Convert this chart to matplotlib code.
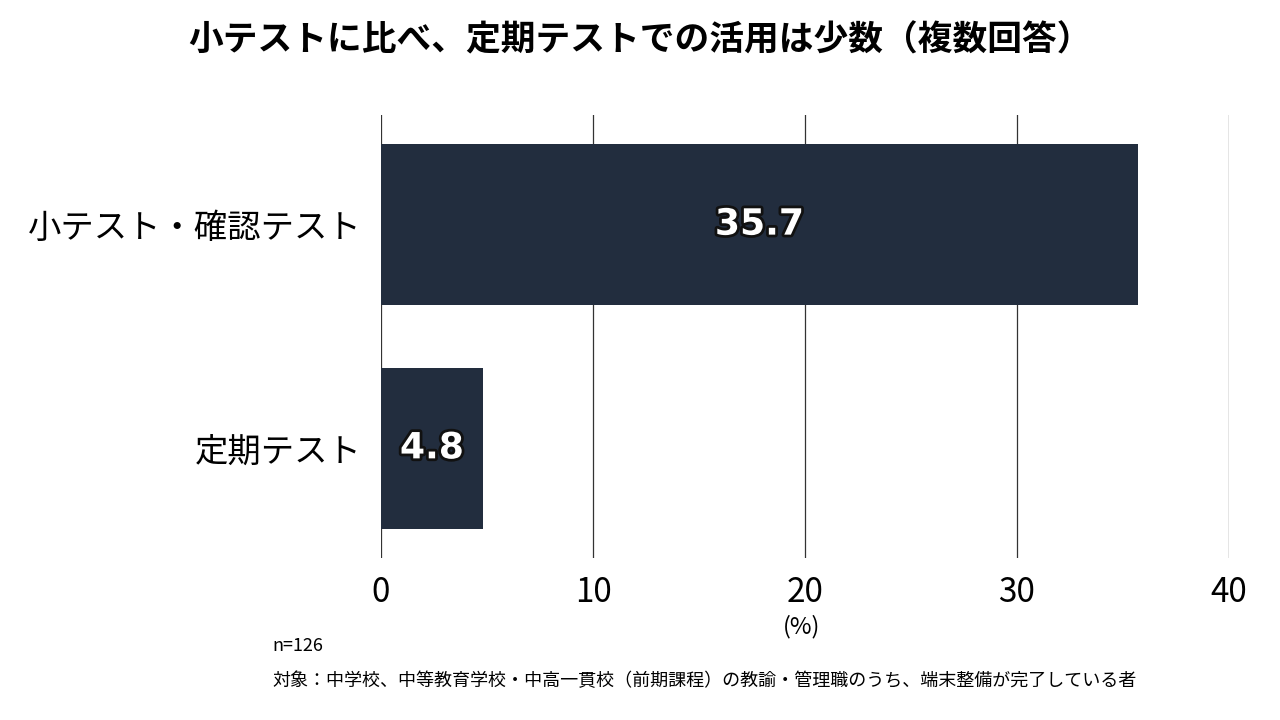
import matplotlib
matplotlib.use("Agg")
import matplotlib.pyplot as plt
import matplotlib.patheffects as pe

categories = ["小テスト・確認テスト", "定期テスト"]
values = [35.7, 4.8]
xticks = [0, 10, 20, 30, 40]

plt.rcParams["font.family"] = "Noto Sans CJK JP"
fig = plt.figure(figsize=(12.8, 7.2), dpi=100)
ax = fig.add_axes([381/1280, 1-558/720, 848/1280, 443/720])
ypos = list(range(len(categories)))
ax.barh(ypos, values, height=0.72, color="#222d3e", zorder=3)
ax.set_xlim(0, 40)
ax.set_ylim(1.49, -0.49)
ax.set_xticks(xticks)
ax.set_xticklabels([str(t) for t in xticks], fontsize=24)
ax.set_yticks(ypos)
ax.set_yticklabels(categories, fontsize=24)
ax.tick_params(length=0, pad=12)
ax.tick_params(axis="y", pad=14)
for s in ax.spines.values():
    s.set_visible(False)
for t in xticks:
    ax.axvline(t, color="#333333", lw=0.9, zorder=1)
for y, v in zip(ypos, values):
    ax.text(v/2, y, f"{v}", ha="center", va="center", fontsize=26, fontweight="bold",
            color="white", family="DejaVu Sans", zorder=4,
            path_effects=[pe.withStroke(linewidth=4, foreground="#111111")])
fig.text(802/1280, 1-627/720, "(%)", ha="center", va="center", fontsize=17)
fig.text(0.5, 1-40/720, "小テストに比べ、定期テストでの活用は少数（複数回答）",
         ha="center", va="center", fontsize=25, fontweight="bold")
fig.text(272/1280, 1-646/720, "n=126", ha="left", va="center", fontsize=13)
fig.text(272/1280, 1-681/720, "対象：中学校、中等教育学校・中高一貫校（前期課程）の教諭・管理職のうち、端末整備が完了している者",
         ha="left", va="center", fontsize=13)
fig.savefig("out.png", dpi=100, facecolor="white")
